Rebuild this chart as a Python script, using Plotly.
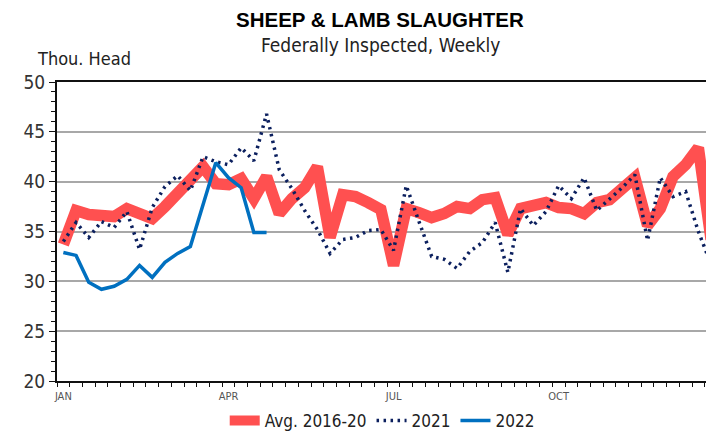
import plotly.graph_objects as go

weeks = list(range(1, 53))
month_ticks = [1, 14, 27, 40]
month_labels = ["JAN", "APR", "JUL", "OCT"]

avg_2016_20 = [33.7, 37.1, 36.7, 36.5, 36.5, 37.3, 36.8, 36.3, 37.5, 38.9,
               40.4, 41.5, 39.8, 39.7, 40.3, 38.3, 40.5, 36.8, 38.3, 39.4,
               41.5, 34.4, 38.7, 38.5, 37.9, 37.2, 31.6, 37.3, 36.9, 36.4,
               36.8, 37.5, 37.3, 38.2, 38.4, 34.7, 37.3, 37.7, 37.9, 37.4,
               37.3, 36.8, 37.9, 38.2, 39.4, 40.4, 35.6, 37.3, 40.5, 41.7,
               43.4, 34.2]
y2021 = [34.0, 35.9, 34.4, 36.0, 35.4, 37.0, 33.2, 37.4, 39.5, 40.6,
         39.1, 42.5, 42.0, 41.7, 43.4, 42.1, 46.8, 41.2, 39.3, 37.1,
         35.2, 32.8, 34.2, 34.4, 35.1, 35.2, 33.1, 39.6, 36.0, 32.5,
         32.2, 31.3, 33.0, 33.9, 35.9, 30.9, 37.3, 35.6, 37.0, 39.6,
         38.3, 40.4, 37.1, 38.2, 39.4, 40.7, 34.1, 40.4, 38.5, 39.0,
         35.0, 31.7]
y2022 = [32.9, 32.6, 29.9, 29.2, 29.5, 30.2, 31.6, 30.4, 31.9, 32.8,
         33.5, 37.7, 41.9, 40.4, 39.4, 34.9, 34.9]

NARROW = "DejaVu Sans Condensed, Liberation Sans Narrow, sans-serif"

fig = go.Figure()
fig.add_trace(go.Scatter(x=weeks, y=avg_2016_20, mode="lines", name="Avg. 2016-20",
                         line=dict(color="#FF5050", width=11.5)))
fig.add_trace(go.Scatter(x=weeks, y=y2021, mode="lines", name="2021",
                         line=dict(color="#0B1F5E", width=3.5, dash="2.5px,4.5px")))
fig.add_trace(go.Scatter(x=weeks[:len(y2022)], y=y2022, mode="lines", name="2022",
                         line=dict(color="#0070C0", width=3.5)))

# page body has an 8px margin, so the figure is laid out in shifted coordinates
fig.update_layout(
    width=706, height=423,
    margin=dict(l=49, r=0, t=74, b=50, autoexpand=False),
    paper_bgcolor="white", plot_bgcolor="white",
    font=dict(family=NARROW, size=17, color="#333333"),
    showlegend=True,
    legend=dict(orientation="h", x=0.495, xanchor="center", y=-0.134, yanchor="middle",
                font=dict(family=NARROW, size=17, color="#222222"),
                itemwidth=30, tracegroupgap=0, bgcolor="rgba(0,0,0,0)"),
    xaxis=dict(range=[0.5, 52.23], tickmode="array", tickvals=month_ticks,
               ticktext=month_labels, ticks="", showgrid=False,
               tickfont=dict(family=NARROW, size=11, color="#555555"),
               ticklabelstandoff=4,
               showline=True, linecolor="#111111", linewidth=2, mirror=True,
               zeroline=False,
               minor=dict(ticks="outside", tick0=0.5, dtick=1, ticklen=4,
                          tickcolor="#111111", tickwidth=1, showgrid=False)),
    yaxis=dict(range=[20, 50], tick0=20, dtick=5, ticks="outside", ticklen=6,
               tickcolor="#111111", tickwidth=1,
               showgrid=True, gridcolor="#A8A8A8", gridwidth=1.5,
               tickfont=dict(family=NARROW, size=19, color="#333333"),
               showline=True, linecolor="#111111", linewidth=2, mirror=True,
               zeroline=False,
               minor=dict(ticks="outside", dtick=1, ticklen=4,
                          tickcolor="#111111", tickwidth=1, showgrid=False)),
    annotations=[
        dict(text="<b>SHEEP &amp; LAMB SLAUGHTER</b>", xref="paper", yref="paper",
             x=0.492, y=(381 - 20) / 299, xanchor="center", yanchor="middle",
             showarrow=False, font=dict(family="Liberation Sans, Arial, sans-serif",
                                        size=20.5, color="#000000")),
        dict(text="Federally Inspected, Weekly", xref="paper", yref="paper",
             x=0.492, y=(381 - 45) / 299, xanchor="center", yanchor="middle",
             showarrow=False, font=dict(family=NARROW, size=19, color="#222222")),
        dict(text="Thou. Head", xref="paper", yref="paper",
             x=(35 - 57) / 657, y=(381 - 58) / 299, xanchor="left", yanchor="middle",
             showarrow=False, font=dict(family=NARROW, size=18, color="#222222")),
    ],
)

fig.write_html("out.html")
